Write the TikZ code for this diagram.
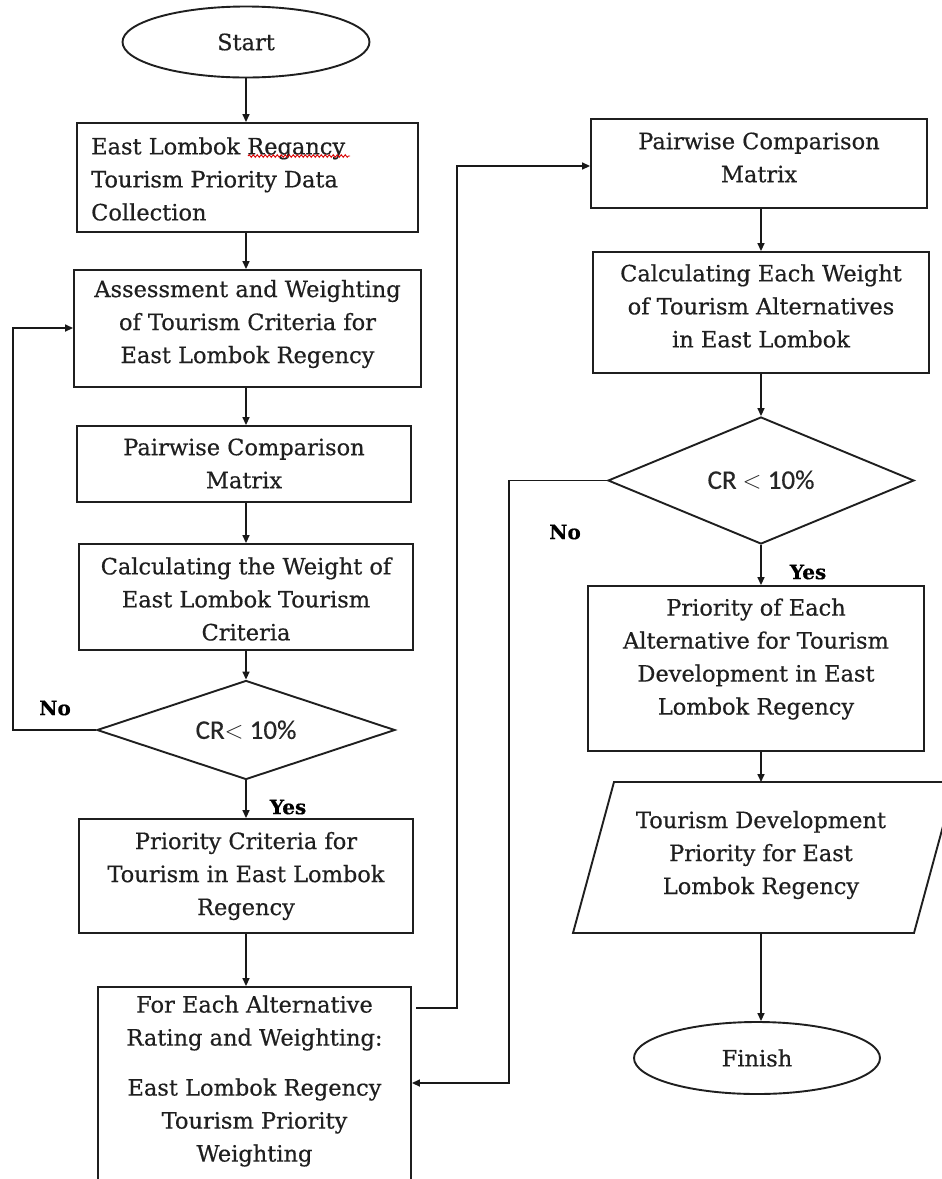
\documentclass[tikz,border=0pt]{standalone}
\usepackage{fontspec}
\setmainfont{DejaVu Serif}[FakeBold=0.5]
\newfontfamily\calib{Carlito}[FakeBold=0.4]
\usetikzlibrary{shapes.geometric,arrows.meta,decorations.pathmorphing}
\begin{document}
\begin{tikzpicture}[x=1pt,y=-1pt,
  shp/.style={draw=black!88, line width=1.9pt, inner sep=0pt},
  txt/.style={align=center, inner sep=0pt, text=black!88, font=\fontsize{22.5}{33}\selectfont},
  crtxt/.style={inner sep=0pt, text=black!85, font=\calib\fontsize{27}{30}\selectfont},
  lbl/.style={inner sep=0pt, text=black, font=\bfseries\fontsize{20}{24}\selectfont},
  arr/.style={draw=black!90, line width=1.6pt, -{Triangle[length=8pt,width=7pt]}},
  ln/.style={draw=black!90, line width=1.6pt}]
\useasboundingbox (0,0) rectangle (942,1179);
\fill[white] (0,0) rectangle (942,1179);
\clip (0,0) rectangle (942,1179);

% ---------- left column ----------
\node[shp, ellipse, minimum width=247, minimum height=71, txt] (start) at (246,42) {Start};
\node[shp, minimum width=341, minimum height=109] (b1) at (247.5,177.5) {};
\node[txt, align=left, anchor=west] (b1t) at (91,179) {East Lombok Regancy\\Tourism Priority Data\\Collection};
\draw[red!85!black, line width=0.9pt, decorate, decoration={snake, amplitude=1.3pt, segment length=4pt}] (248,156) -- (350,156);

\node[shp, minimum width=347, minimum height=117] (b2) at (247.5,328.5) {};
\node[txt] (b2t) at (247.5,324) {Assessment and Weighting\\of Tourism Criteria for\\East Lombok Regency};

\node[shp, minimum width=334, minimum height=76] (b3) at (244,464) {};
\node[txt] (b3t) at (244,463.5) {Pairwise Comparison\\Matrix};

\node[shp, minimum width=334, minimum height=106] (b4) at (246,597) {};
\node[txt] (b4t) at (246,599) {Calculating the Weight of\\East Lombok Tourism\\Criteria};

\node[shp, diamond, minimum width=298, minimum height=99] (d1) at (246,730) {};
\node[crtxt] (d1t) at (246,730) {CR$<$ 10\%};

\node[shp, minimum width=334, minimum height=114] (b5) at (246,876) {};
\node[txt] (b5t) at (246,876) {Priority Criteria for\\Tourism in East Lombok\\Regency};

\node[shp, minimum width=313, minimum height=243] (b6) at (254.5,1108.5) {};
\node[txt] (b6t) at (254.5,1081) {For Each Alternative\\Rating and Weighting:\\[17pt]East Lombok Regency\\Tourism Priority\\Weighting};

% ---------- right column ----------
\node[shp, minimum width=336, minimum height=89] (p2) at (759,163.5) {};
\node[txt] (p2t) at (759,157.5) {Pairwise Comparison\\Matrix};

\node[shp, minimum width=336, minimum height=121] (c2) at (761,312.5) {};
\node[txt] (c2t) at (761,306) {Calculating Each Weight\\of Tourism Alternatives\\in East Lombok};

\node[shp, diamond, minimum width=306, minimum height=127] (d2) at (761,480.5) {};
\node[crtxt] (d2t) at (761,480) {CR $<$ 10\%};

\node[shp, minimum width=336, minimum height=165] (b7) at (756,668.5) {};
\node[txt] (b7t) at (756,659) {Priority of Each\\Alternative for Tourism\\Development in East\\Lombok Regency};

\draw[shp] (573,933) -- (614,782) -- (955,782) -- (914,933) -- cycle;
\coordinate (partop) at (761,782);
\coordinate (parbot) at (761,933);
\node[txt] (part) at (761,855) {Tourism Development\\Priority for East\\Lombok Regency};

\node[shp, ellipse, minimum width=246, minimum height=72, txt] (finish) at (757,1058) {Finish};

% ---------- connectors ----------
\draw[arr] (start.south) -- (start.south |- b1.north);
\draw[arr] (start.south |- b1.south) -- (start.south |- b2.north);
\draw[arr] (start.south |- b2.south) -- (start.south |- b3.north);
\draw[arr] (start.south |- b3.south) -- (start.south |- b4.north);
\draw[arr] (start.south |- b4.south) -- (d1.north);
\draw[arr] (d1.south) -- (d1.south |- b5.north);
\draw[arr] (d1.south |- b5.south) -- (d1.south |- b6.north);

\coordinate (nl) at (13,328);
\draw[arr] (d1.west) -| (nl) -- (nl -| b2.west);

\coordinate (o6) at (416,1008);
\coordinate (r1) at (457,166);
\draw[arr] (o6) -| (r1) -- (r1 -| p2.west);

\draw[arr] (d2.north |- p2.south) -- (d2.north |- c2.north);
\draw[arr] (d2.north |- c2.south) -- (d2.north);
\draw[arr] (d2.south) -- (d2.south |- b7.north);
\draw[arr] (d2.south |- b7.south) -- (partop);
\draw[arr] (parbot) -- (parbot |- finish.north);

\coordinate (nr) at (509,1083);
\draw[arr] (d2.west) -| (nr) -- (nr -| b6.east);

% ---------- labels ----------
\node[lbl] (no1) at (55,708) {No};
\node[lbl] (yes1) at (288,807) {Yes};
\node[lbl] (no2) at (565,532) {No};
\node[lbl] (yes2) at (808,572) {Yes};
\end{tikzpicture}
\end{document}
